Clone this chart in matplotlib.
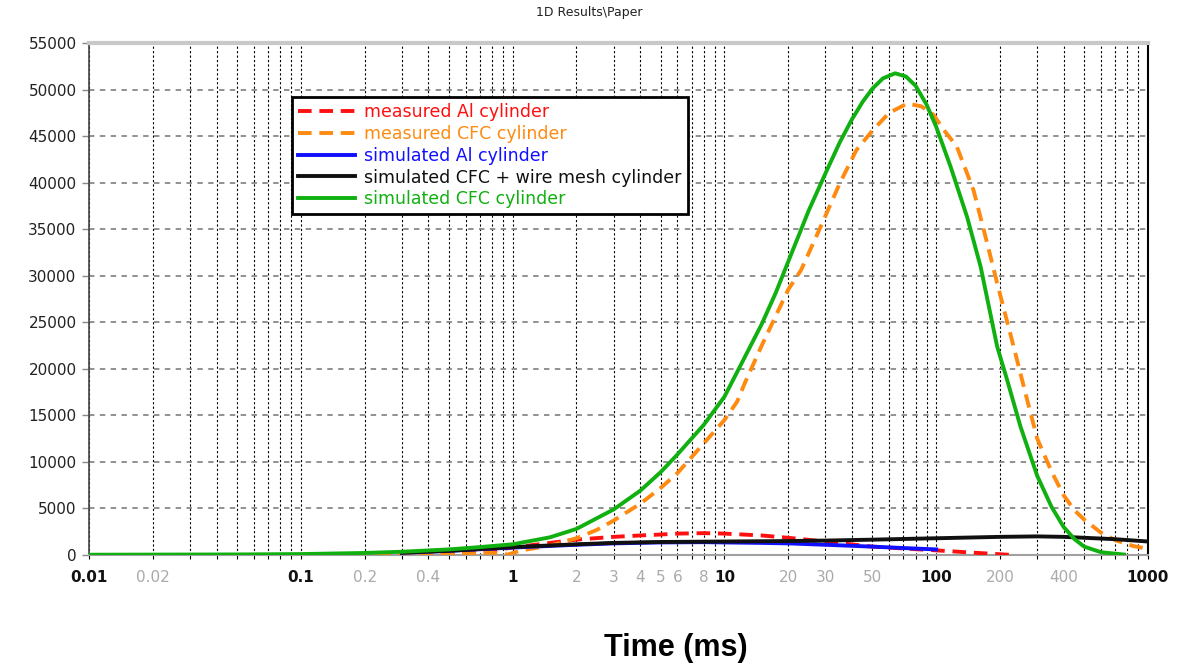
import numpy as np
import matplotlib
matplotlib.use('Agg')
import matplotlib.pyplot as plt
from matplotlib import font_manager
from matplotlib.ticker import FixedLocator, NullFormatter

#-------------------------------------------------------------------------------
# data
#-------------------------------------------------------------------------------
red_x = [0.09, 0.2, 0.5, 0.8, 1, 1.5, 2, 3, 4, 5, 6, 8, 10, 15, 20, 30, 50, 70, 100, 150, 230]
red_y = [0, 50, 200, 500, 800, 1300, 1650, 1950, 2100, 2200, 2300, 2350, 2300, 2100, 1850, 1450, 900, 700, 500, 250, 0]

orange_x = [0.09, 0.2, 0.5, 0.8, 0.95, 1.1, 1.5, 2, 2.5, 3, 4, 5, 6, 8, 10, 11.5, 12.5, 15, 20, 23, 28,
            35, 42, 50, 60, 73, 85, 97, 110, 125, 150, 174, 194, 232, 270, 300, 350, 400, 450, 500,
            600, 700, 850, 1000]
orange_y = [0, 20, 100, 250, 50, 500, 1000, 1800, 2700, 3700, 5500, 7200, 8800, 12000, 14500, 16500,
            18500, 22500, 28500, 30600, 34900, 39900, 43500, 45600, 47500, 48500, 48200, 47300, 45500,
            43900, 39200, 33500, 29200, 22400, 16500, 12500, 9000, 6400, 4800, 3800, 2400, 1600, 970, 650]

blue_x = [0.3, 0.5, 1, 2, 3, 5, 8, 10, 15, 20, 30, 50, 70, 100]
blue_y = [250, 450, 800, 1100, 1250, 1350, 1380, 1350, 1300, 1250, 1100, 900, 750, 600]

black_x = [0.3, 0.5, 1, 2, 3, 5, 10, 20, 30, 50, 100, 200, 300, 400, 500, 700, 1000]
black_y = [250, 450, 850, 1150, 1300, 1400, 1450, 1500, 1550, 1650, 1800, 1950, 2000, 1950, 1850, 1700, 1450]

green_x = [0.01, 0.05, 0.1, 0.2, 0.3, 0.5, 0.7, 1, 1.5, 2, 3, 4, 5, 6, 8, 10, 12, 15, 17.5, 20, 25,
           30, 35, 40, 45, 50, 56, 64, 72, 80, 90, 100, 117, 140, 162, 194, 215, 250, 300, 350, 400,
           450, 500, 600, 770]
green_y = [30, 60, 100, 220, 350, 600, 850, 1150, 1900, 2800, 4900, 6900, 8900, 10800, 14000, 17000,
           20500, 24800, 28200, 31500, 37000, 41000, 44300, 46800, 48700, 50100, 51200, 51750, 51400,
           50400, 48400, 46000, 41700, 36300, 31000, 22400, 19000, 13800, 8500, 5200, 3000, 1700, 900,
           300, 50]

labels = ['measured Al cylinder', 'measured CFC cylinder', 'simulated Al cylinder',
          'simulated CFC + wire mesh cylinder', 'simulated CFC cylinder']

xtick_pos = [0.01, 0.02, 0.1, 0.2, 0.4, 1, 2, 3, 4, 5, 6, 8, 10, 20, 30, 50, 100, 200, 400, 1000]
xtick_lab = ['0.01', '0.02', '0.1', '0.2', '0.4', '1', '2', '3', '4', '5', '6', '8', '10',
             '20', '30', '50', '100', '200', '400', '1000']
decades = ['0.01', '0.1', '1', '10', '100', '1000']
yticks = list(range(0, 55001, 5000))

#-------------------------------------------------------------------------------
# figure
#-------------------------------------------------------------------------------
fig = plt.figure(figsize=(11.89, 6.67), dpi=100)
ax = fig.add_axes([0.0749, 0.1679, 0.8906, 0.7676])

lw = 2.8
ax.plot(red_x, red_y, color='#ff1010', lw=lw, ls=(0, (3.5, 2)), label=labels[0], zorder=3)
ax.plot(orange_x, orange_y, color='#ff8a10', lw=lw, ls=(0, (3.5, 2)), label=labels[1], zorder=3)
ax.plot(blue_x, blue_y, color='#1010ff', lw=lw, label=labels[2], zorder=3)
ax.plot(black_x, black_y, color='#101010', lw=lw, label=labels[3], zorder=3)
ax.plot(green_x, green_y, color='#10b010', lw=lw, label=labels[4], zorder=4)

ax.set_xscale('log')
ax.set_xlim(0.01, 1000)
ax.set_ylim(0, 55000)

# x ticks: labelled ones major, rest minor
minor_pos = []
for d in [0.01, 0.1, 1, 10, 100]:
    for m in range(1, 10):
        v = round(d * m, 6)
        if not any(abs(v - p) < 1e-9 for p in xtick_pos):
            minor_pos.append(v)
ax.xaxis.set_major_locator(FixedLocator(xtick_pos))
ax.xaxis.set_minor_locator(FixedLocator(minor_pos))
ax.xaxis.set_minor_formatter(NullFormatter())
ax.set_xticklabels(xtick_lab)
for t in ax.get_xticklabels():
    if t.get_text() in decades:
        t.set_color('#111111')
        t.set_fontweight('bold')
    else:
        t.set_color('#aaaaaa')
ax.tick_params(axis='x', which='both', length=3, width=0.8, color='black', pad=8, labelsize=11)

ax.set_yticks(yticks)
ax.set_yticklabels([str(v) for v in yticks])
ax.tick_params(axis='y', length=5, width=1, color='#888888', pad=4, labelsize=11, labelcolor='#222222')

ax.grid(True, axis='x', which='both', color='black', ls=(0, (2, 2)), lw=0.8)
ax.grid(True, axis='y', which='major', color='#888888', ls=(0, (3, 3)), lw=1.3)
ax.set_axisbelow(True)

ax.spines['top'].set_color('#c8c8c8')
ax.spines['top'].set_linewidth(3)
ax.spines['left'].set_color('#444444')
ax.spines['left'].set_linewidth(1.2)
ax.spines['right'].set_color('black')
ax.spines['right'].set_linewidth(1.5)
ax.spines['bottom'].set_color('#a0a0a0')
ax.spines['bottom'].set_linewidth(1.5)

leg = ax.legend(loc='upper left', bbox_to_anchor=(0.1917, 0.8945), fontsize=12.5, frameon=True,
                fancybox=False, edgecolor='black', framealpha=1, handlelength=3.3,
                labelspacing=0.22, borderpad=0.35, handletextpad=0.5, borderaxespad=0,
                labelcolor='linecolor')
leg.get_frame().set_linewidth(2)

# Arial-like bold face for the axis title
bold_file = None
for f in font_manager.fontManager.ttflist:
    if f.name == 'Liberation Sans' and f.weight in (700, 'bold') and f.style == 'normal':
        bold_file = f.fname
        break
if bold_file:
    xl_font = font_manager.FontProperties(fname=bold_file, size=22)
else:
    xl_font = font_manager.FontProperties(family='DejaVu Sans', weight='bold', size=20)

fig.text(0.496, 0.982, '1D Results\\Paper', ha='center', va='center', fontsize=9, color='#222222')
fig.text(0.568, 0.0285, 'Time (ms)', ha='center', va='center', fontproperties=xl_font)

plt.savefig('out.png', dpi=100)
